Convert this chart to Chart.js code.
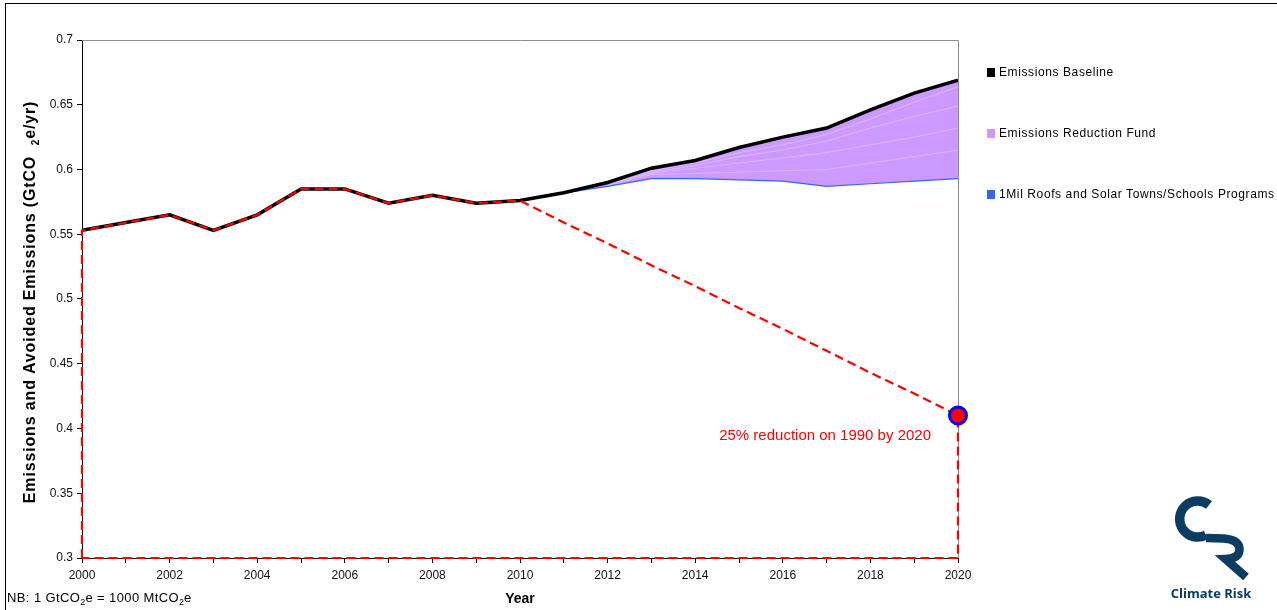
<!DOCTYPE html>
<html>
<head>
<meta charset="utf-8">
<script src="https://cdn.jsdelivr.net/npm/chart.js@4.4.1/dist/chart.umd.min.js"></script>
<style>
  html, body { margin: 0; padding: 0; background: #fff; }
  #wrap { position: relative; width: 1277px; height: 610px; overflow: hidden; font-family: "Liberation Sans", Arial, sans-serif; }
  #frame { position: absolute; left: 5px; top: 3px; width: 1400px; height: 700px; border-left: 1px solid #000; border-top: 1px solid #000; }
  canvas { position: absolute; left: 0; top: 0; }
  .leg { position: absolute; left: 987px; font-size: 12px; letter-spacing: 0.6px; color: #000; white-space: nowrap; }
  .leg span.sw { display: inline-block; width: 8px; height: 9px; margin-right: 4px; vertical-align: -1px; }
  #nb { position: absolute; left: 7px; top: 590px; font-size: 13px; letter-spacing: 0.4px; color: #000; white-space: nowrap; }
  #nb sub { font-size: 9px; vertical-align: -3px; letter-spacing: 0; }
  #logo { position: absolute; left: 1160px; top: 488px; width: 100px; height: 120px; }
</style>
</head>
<body>
<div id="wrap">
  <div id="frame"></div>
  <canvas id="c" width="1277" height="610"></canvas>
  <div class="leg" style="top:65px"><span class="sw" style="background:#000"></span>Emissions Baseline</div>
  <div class="leg" style="top:126px"><span class="sw" style="background:#cc99ff"></span>Emissions Reduction Fund</div>
  <div class="leg" style="top:187px"><span class="sw" style="background:#3366ff"></span>1Mil Roofs and Solar Towns/Schools Programs</div>
  <div id="nb">NB: 1 GtCO<sub>2</sub>e = 1000 MtCO<sub>2</sub>e</div>
  <svg id="logo" viewBox="0 0 100 120">
    <path d="M 49 17 A 18 18 0 1 0 46 47" fill="none" stroke="#0c3c62" stroke-width="9.5"/>
    <path d="M 46 50 L 64 50.5 Q 80 52 79.5 62 Q 79 70.5 65.5 71 L 86 89" fill="none" stroke="#0c3c62" stroke-width="8.5" stroke-linejoin="miter"/>
    <text x="51" y="110" text-anchor="middle" font-family="Open Sans, Liberation Sans, sans-serif" font-weight="bold" font-size="13" fill="#0c3c62">Climate Risk</text>
  </svg>
</div>
<script>
// Years on the horizontal axis
const years = [2000, 2001, 2002, 2003, 2004, 2005, 2006, 2007, 2008, 2009, 2010,
               2011, 2012, 2013, 2014, 2015, 2016, 2017, 2018, 2019, 2020];

// Emissions baseline (GtCO2e/yr)
const baseline = [0.553, 0.559, 0.565, 0.553, 0.565, 0.585, 0.585, 0.574, 0.580, 0.574, 0.576,
                  0.582, 0.590, 0.601, 0.607, 0.617, 0.625, 0.632, 0.646, 0.659, 0.669];

// Emissions remaining after the 1Mil Roofs and Solar Towns/Schools programs
const roofs = [0.553, 0.559, 0.565, 0.553, 0.565, 0.585, 0.585, 0.574, 0.580, 0.574, 0.576,
               0.582, 0.587, 0.593, 0.593, 0.592, 0.591, 0.587, 0.589, 0.591, 0.593];

// Individual Emissions Reduction Fund layers (2012 onward)
const fundYears = [2012, 2013, 2014, 2015, 2016, 2017, 2018, 2019, 2020];
const fundLayers = [
  [0.590, 0.599, 0.605, 0.613, 0.619, 0.627, 0.639, 0.652, 0.664],
  [0.589, 0.598, 0.603, 0.610, 0.615, 0.622, 0.632, 0.641, 0.649],
  [0.589, 0.597, 0.601, 0.605, 0.609, 0.613, 0.619, 0.625, 0.632],
  [0.588, 0.596, 0.597, 0.598, 0.599, 0.600, 0.605, 0.610, 0.615]
];

// Reduction pathway from 2010 to the 2020 target
const pathYears = [2010, 2011, 2012, 2013, 2014, 2015, 2016, 2017, 2018, 2019, 2020];
const pathValues = [0.576, 0.559, 0.543, 0.526, 0.510, 0.493, 0.477, 0.460, 0.443, 0.427, 0.410];

// 2020 target: 25% reduction on 1990
const targetYear = 2020;
const targetValue = 0.41;
const targetLabel = '25% reduction on 1990 by 2020';

// Y axis limits and tick step
const yMin = 0.3, yMax = 0.7, yStep = 0.05;

const pts = (xs, ys) => xs.map((x, i) => ({ x: x, y: ys[i] }));

// Dashed outline: up the 2000 edge, along history, down the pathway, back along the floor
const outline = [{ x: years[0], y: yMin }]
  .concat(pts(years.slice(0, 11), baseline.slice(0, 11)))
  .concat(pts(pathYears.slice(1), pathValues.slice(1)))
  .concat([{ x: targetYear, y: yMin }, { x: years[0], y: yMin }]);

const FONT = '"Liberation Sans", Arial, sans-serif';

// Draws a run of text pieces (some as subscripts) centred on the current origin
function drawRuns(ctx, runs) {
  const widths = runs.map((r) => { ctx.font = r.font; return ctx.measureText(r.text).width; });
  let x = -widths.reduce((a, b) => a + b, 0) / 2;
  ctx.textAlign = 'left';
  runs.forEach((r, i) => {
    ctx.font = r.font;
    ctx.fillText(r.text, x, r.dy || 0);
    x += widths[i];
  });
}

const decorations = {
  id: 'decorations',
  beforeDatasetsDraw(chart) {
    const { ctx, chartArea: a } = chart;
    ctx.save();
    // grey plot-area border on top and right
    ctx.strokeStyle = '#8c8c8c';
    ctx.lineWidth = 1;
    ctx.beginPath();
    ctx.moveTo(a.left, a.top + 0.5);
    ctx.lineTo(a.right + 0.5, a.top + 0.5);
    ctx.lineTo(a.right + 0.5, a.bottom);
    ctx.stroke();
    ctx.restore();
  },
  afterDraw(chart) {
    const { ctx, chartArea: a, scales } = chart;
    ctx.save();
    // target label
    ctx.fillStyle = '#ff0000';
    ctx.font = '15px ' + FONT;
    ctx.textAlign = 'right';
    ctx.textBaseline = 'middle';
    ctx.fillText(targetLabel, scales.x.getPixelForValue(targetYear) - 27, scales.y.getPixelForValue(targetValue) + 20);
    // axis titles
    ctx.fillStyle = '#000';
    ctx.font = 'bold 14px ' + FONT;
    ctx.textAlign = 'center';
    ctx.fillText('Year', (a.left + a.right) / 2, 599);
    ctx.translate(31, 302);
    ctx.rotate(-Math.PI / 2);
    ctx.textBaseline = 'middle';
    if ('letterSpacing' in ctx) ctx.letterSpacing = '0.85px';
    drawRuns(ctx, [
      { text: 'Emissions and Avoided Emissions (GtCO  ', font: 'bold 16px ' + FONT },
      { text: '2', font: 'bold 10px ' + FONT, dy: 5 },
      { text: 'e/yr)', font: 'bold 16px ' + FONT }
    ]);
    ctx.restore();
  }
};

const datasets = [
  {
    label: 'target',
    data: [{ x: targetYear, y: targetValue }],
    showLine: false,
    pointRadius: 8.5,
    pointBackgroundColor: '#ff0000',
    pointBorderColor: '#0000ff',
    pointBorderWidth: 3,
    clip: false,
    order: 0
  },
  {
    label: 'pathway',
    data: outline,
    borderColor: '#ff0000',
    borderWidth: 2.2,
    borderDash: [9, 5],
    pointRadius: 0,
    fill: false,
    tension: 0,
    clip: false,
    order: 1
  },
  {
    label: 'Emissions Baseline',
    data: pts(years, baseline),
    borderColor: '#000000',
    borderWidth: 3.5,
    pointRadius: 0,
    fill: false,
    tension: 0,
    order: 2
  }
];

fundLayers.forEach((layer) => {
  datasets.push({
    label: 'Emissions Reduction Fund layer',
    data: pts(fundYears, layer),
    borderColor: 'rgba(255,255,255,0.3)',
    borderWidth: 1,
    pointRadius: 0,
    fill: false,
    tension: 0,
    order: 3
  });
});

datasets.push({
  label: '1Mil Roofs and Solar Towns/Schools Programs',
  data: pts(years, roofs),
  borderColor: '#3366ff',
  borderWidth: 1.2,
  backgroundColor: '#cc99ff',
  pointRadius: 0,
  fill: { target: 2 },
  tension: 0,
  order: 4
});

new Chart(document.getElementById('c'), {
  type: 'line',
  data: { datasets: datasets },
  options: {
    responsive: false,
    animation: false,
    layout: { padding: { left: 0, right: 319, top: 40, bottom: 0 } },
    plugins: { legend: { display: false }, tooltip: { enabled: false } },
    scales: {
      x: {
        type: 'linear',
        min: years[0],
        max: years[years.length - 1],
        afterFit(s) { s.height = 52; },
        border: { color: '#000', width: 1 },
        grid: { drawOnChartArea: false, drawTicks: true, tickLength: 5, color: '#000' },
        ticks: {
          stepSize: 1,
          autoSkip: false,
          maxRotation: 0,
          color: '#111',
          padding: 5,
          font: { family: FONT, size: 12 },
          callback: (v) => (v % 2 === 0 ? String(v) : '')
        }
      },
      y: {
        min: yMin,
        max: yMax,
        afterFit(s) { s.width = 82; },
        border: { color: '#000', width: 1 },
        grid: { drawOnChartArea: false, drawTicks: true, tickLength: 5, color: '#000' },
        ticks: {
          stepSize: yStep,
          color: '#111',
          padding: 4,
          font: { family: FONT, size: 12 },
          callback: (v) => String(Math.round(v * 100) / 100)
        }
      }
    }
  },
  plugins: [decorations]
});
</script>
</body>
</html>
